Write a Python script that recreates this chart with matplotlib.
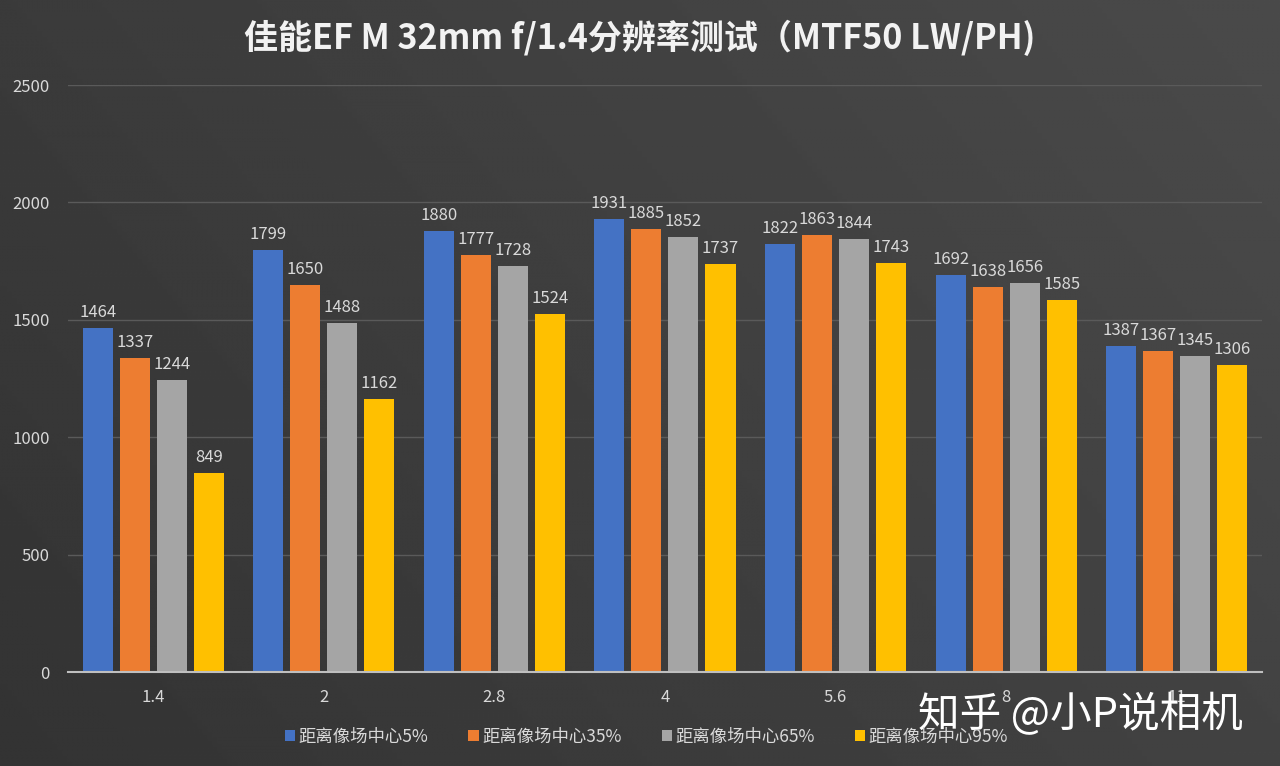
import numpy as np
import matplotlib.pyplot as plt
from matplotlib.patches import Patch

plt.rcParams['font.family'] = ['Noto Sans CJK SC', 'DejaVu Sans']

# 数据
apertures = ['1.4', '2', '2.8', '4', '5.6', '8', '11']
series_names = ['距离像场中心5%', '距离像场中心35%', '距离像场中心65%', '距离像场中心95%']
center_5 = [1464, 1799, 1880, 1931, 1822, 1692, 1387]
center_35 = [1337, 1650, 1777, 1885, 1863, 1638, 1367]
center_65 = [1244, 1488, 1728, 1852, 1844, 1656, 1345]
center_95 = [849, 1162, 1524, 1737, 1743, 1585, 1306]
yticks = [0, 500, 1000, 1500, 2000, 2500]

colors = ['#4472C4', '#ED7D31', '#A5A5A5', '#FFC000']
text_col = '#d9d9d9'

fig = plt.figure(figsize=(12.8, 7.66), dpi=100)

# 背景渐变
bg = fig.add_axes([0, 0, 1, 1], zorder=-10)
gx = np.linspace(0, 1, 256)
gy = np.linspace(0, 1, 256)
X, Y = np.meshgrid(gx, gy)
grad = 0.20 + 0.06 * X + 0.03 * Y
bg.imshow(grad, cmap='gray', vmin=0, vmax=1, aspect='auto',
          extent=[0, 1, 0, 1], origin='lower')
bg.axis('off')

ax = fig.add_axes([0.053, 0.1227, 0.933, 0.7663])
ax.patch.set_alpha(0)

x = np.arange(len(apertures))
w = 0.176
step = 0.217
all_series = [center_5, center_35, center_65, center_95]
for i, vals in enumerate(all_series):
    pos = x + (i - 1.5) * step
    bars = ax.bar(pos, vals, width=w, color=colors[i], zorder=3)
    for b, v in zip(bars, vals):
        ax.text(b.get_x() + b.get_width() / 2, v + 30, str(v),
                ha='center', va='bottom', fontsize=12, color=text_col,
                zorder=4)

ax.set_xlim(-0.5, len(apertures) - 0.5)
ax.set_ylim(0, 2500)
ax.set_yticks(yticks)
ax.set_yticklabels([str(t) for t in yticks], fontsize=12, color=text_col)
ax.set_xticks(x)
ax.set_xticklabels(apertures, fontsize=12, color=text_col)
ax.tick_params(length=0)
ax.tick_params(axis='x', pad=12)
ax.tick_params(axis='y', pad=13)

ax.grid(axis='y', color='#5a5a5a', linewidth=1, zorder=0)
for s in ['top', 'right', 'left']:
    ax.spines[s].set_visible(False)
ax.spines['bottom'].set_color('#bfbfbf')
ax.spines['bottom'].set_linewidth(1.5)
ax.spines['bottom'].set_zorder(5)

fig.text(0.5, 0.951, '佳能EF M 32mm f/1.4分辨率测试（MTF50 LW/PH)',
         ha='center', va='center', fontsize=24.5, fontweight='bold',
         color='#f2f2f2')

handles = [Patch(facecolor=c, edgecolor='none') for c in colors]
leg = fig.legend(handles, series_names, loc='center',
                 bbox_to_anchor=(0.505, 0.038), ncol=4, frameon=False,
                 fontsize=12.5, handlelength=0.6, handleheight=0.6,
                 handletextpad=0.2, columnspacing=2.3)
for t in leg.get_texts():
    t.set_color(text_col)

fig.text(0.844, 0.067, '知乎 @小P说相机', ha='center', va='center',
         fontsize=30, color='white')

fig.savefig('out.png', dpi=100)
